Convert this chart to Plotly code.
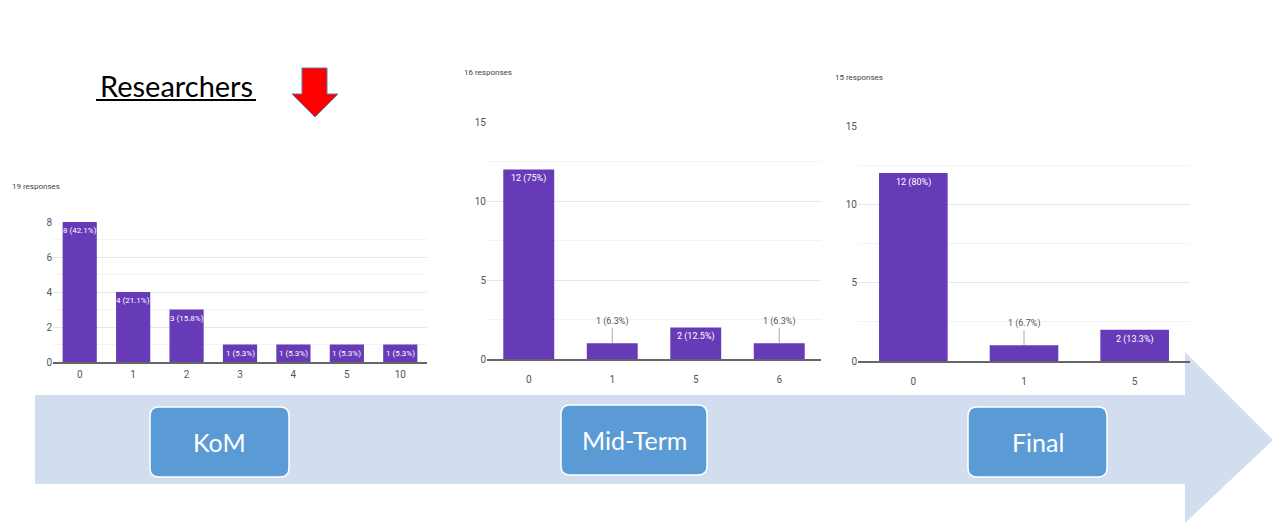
import plotly.graph_objects as go

W, H = 1278, 523

# ---------------- data ----------------
kom_categories = ["0", "1", "2", "3", "4", "5", "10"]
kom_values = [8, 4, 3, 1, 1, 1, 1]
kom_labels = ["8 (42.1%)", "4 (21.1%)", "3 (15.8%)", "1 (5.3%)", "1 (5.3%)", "1 (5.3%)", "1 (5.3%)"]
kom_responses = "19 responses"

mid_categories = ["0", "1", "5", "6"]
mid_values = [12, 1, 2, 1]
mid_labels = ["12 (75%)", "1 (6.3%)", "2 (12.5%)", "1 (6.3%)"]
mid_responses = "16 responses"

fin_categories = ["0", "1", "5"]
fin_values = [12, 1, 2]
fin_labels = ["12 (80%)", "1 (6.7%)", "2 (13.3%)"]
fin_responses = "15 responses"

stage_names = ["KoM", "Mid-Term", "Final"]
title_text = "Researchers"

BAR = "#673ab7"
SMALL_FONT = "Roboto, Arial, sans-serif"


def px(x):
    return x / W


def py(y):
    return 1 - y / H


def path(points):
    return "M " + " L ".join(f"{px(x):.5f},{py(y):.5f}" for x, y in points) + " Z"


def rounded(x0, y0, x1, y1, r):
    p = lambda x, y: f"{px(x):.5f},{py(y):.5f}"
    return (f"M {p(x0 + r, y0)} L {p(x1 - r, y0)} Q {p(x1, y0)} {p(x1, y0 + r)} "
            f"L {p(x1, y1 - r)} Q {p(x1, y1)} {p(x1 - r, y1)} L {p(x0 + r, y1)} "
            f"Q {p(x0, y1)} {p(x0, y1 - r)} L {p(x0, y0 + r)} Q {p(x0, y0)} {p(x0 + r, y0)} Z")


fig = go.Figure()

charts = [
    dict(cats=kom_categories, vals=kom_values, labels=kom_labels, resp=kom_responses,
         xd=(53, 427), yd=(362, 222), rng=8, dtick=2, width=0.64, inside_min=1,
         resp_xy=(10, 187), lab_size=8, xstand=2),
    dict(cats=mid_categories, vals=mid_values, labels=mid_labels, resp=mid_responses,
         xd=(487, 821), yd=(359, 122), rng=15, dtick=5, width=0.61, inside_min=2,
         resp_xy=(462, 72), lab_size=9, xstand=10),
    dict(cats=fin_categories, vals=fin_values, labels=fin_labels, resp=fin_responses,
         xd=(858, 1190), yd=(361, 126), rng=15, dtick=5, width=0.62, inside_min=2,
         resp_xy=(833, 77), lab_size=9, xstand=10),
]

annotations = []
layout_axes = {}
for i, c in enumerate(charts, start=1):
    xs = "x" if i == 1 else f"x{i}"
    ys = "y" if i == 1 else f"y{i}"
    idx = list(range(len(c["cats"])))
    fig.add_trace(go.Bar(x=idx, y=c["vals"], xaxis=xs, yaxis=ys, width=c["width"],
                         marker=dict(color=BAR, line=dict(width=0)),
                         customdata=c["cats"], hovertemplate="%{customdata}: %{y}<extra></extra>",
                         showlegend=False))
    xk = "xaxis" if i == 1 else f"xaxis{i}"
    yk = "yaxis" if i == 1 else f"yaxis{i}"
    layout_axes[xk] = dict(domain=[px(c["xd"][0]), px(c["xd"][1])], anchor=ys,
                           range=[-0.5, len(idx) - 0.5], tickvals=idx, ticktext=c["cats"],
                           showgrid=False, zeroline=False, automargin=False,
                           showline=True, linecolor="#666", linewidth=1.5,
                           ticks="", ticklabelstandoff=c["xstand"],
                           tickfont=dict(family=SMALL_FONT, size=10, color="#555"),
                           fixedrange=True)
    layout_axes[yk] = dict(domain=[py(c["yd"][0]), py(c["yd"][1])], anchor=xs,
                           range=[0, c["rng"]], dtick=c["dtick"], showgrid=True,
                           gridcolor="#e6e6e6", gridwidth=1, zeroline=False,
                           showline=False, ticks="", automargin=False,
                           minor=dict(dtick=c["dtick"] / 2, showgrid=True, gridcolor="#f3f3f3"),
                           tickfont=dict(family=SMALL_FONT, size=10, color="#555"),
                           fixedrange=True)
    for k, v, lab in zip(idx, c["vals"], c["labels"]):
        if v >= c["inside_min"]:
            annotations.append(dict(x=k, y=v, xref=xs, yref=ys, text=lab, showarrow=False,
                                    yanchor="top", yshift=-2,
                                    font=dict(family=SMALL_FONT, size=c["lab_size"], color="white")))
        else:
            annotations.append(dict(x=k, y=v, xref=xs, yref=ys, text=lab, showarrow=True,
                                    arrowhead=0, arrowwidth=1, arrowcolor="#aaa",
                                    ax=0, ay=-22, standoff=0,
                                    font=dict(family=SMALL_FONT, size=c["lab_size"], color="#555")))
    annotations.append(dict(x=px(c["resp_xy"][0]), y=py(c["resp_xy"][1]), xref="paper",
                            yref="paper", text=c["resp"], showarrow=False, xanchor="left",
                            yanchor="middle",
                            font=dict(family=SMALL_FONT, size=8, color="#444")))

# big timeline arrow
shapes = [dict(type="path", xref="paper", yref="paper", layer="below",
               path=path([(35, 395), (1185, 395), (1185, 352), (1273, 440),
                          (1185, 523), (1185, 484), (35, 484)]),
               fillcolor="#d2deef", line=dict(width=0))]

# stage boxes
boxes = [(150, 407, 289, 477), (561, 405, 707, 475), (968, 407, 1107, 477)]
for (x0, y0, x1, y1), name in zip(boxes, stage_names):
    shapes.append(dict(type="path", xref="paper", yref="paper", layer="below",
                       path=rounded(x0, y0, x1, y1, 9), fillcolor="#5b9bd5",
                       line=dict(color="white", width=1.5)))
    annotations.append(dict(x=px((x0 + x1) / 2), y=py((y0 + y1) / 2), xref="paper", yref="paper",
                            text=name, showarrow=False, xanchor="center", yanchor="middle",
                            font=dict(family="Lato, Carlito, sans-serif", size=25, color="white")))

# Researchers title + underline
annotations.append(dict(x=px(176), y=py(86), xref="paper", yref="paper", text=title_text,
                        showarrow=False, xanchor="center", yanchor="middle",
                        font=dict(family="Lato, Carlito, sans-serif", size=29, color="black")))
shapes.append(dict(type="line", xref="paper", yref="paper", x0=px(96), x1=px(256),
                   y0=py(100), y1=py(100), line=dict(color="black", width=2)))

# red down arrow
shapes.append(dict(type="path", xref="paper", yref="paper",
                   path=path([(302, 68), (327, 68), (327, 94), (338, 94), (315, 117),
                              (292, 94), (302, 94)]),
                   fillcolor="#ff0000", line=dict(color="#5b7fb0", width=1)))

fig.update_layout(width=W, height=H, margin=dict(l=0, r=0, t=0, b=0, pad=0, autoexpand=False),
                  paper_bgcolor="white", plot_bgcolor="rgba(0,0,0,0)",
                  showlegend=False, shapes=shapes, annotations=annotations,
                  **layout_axes)

fig.write_html("out.html", config={"displayModeBar": False},
               post_script="document.body.style.margin='0';document.body.style.overflow='hidden';")
